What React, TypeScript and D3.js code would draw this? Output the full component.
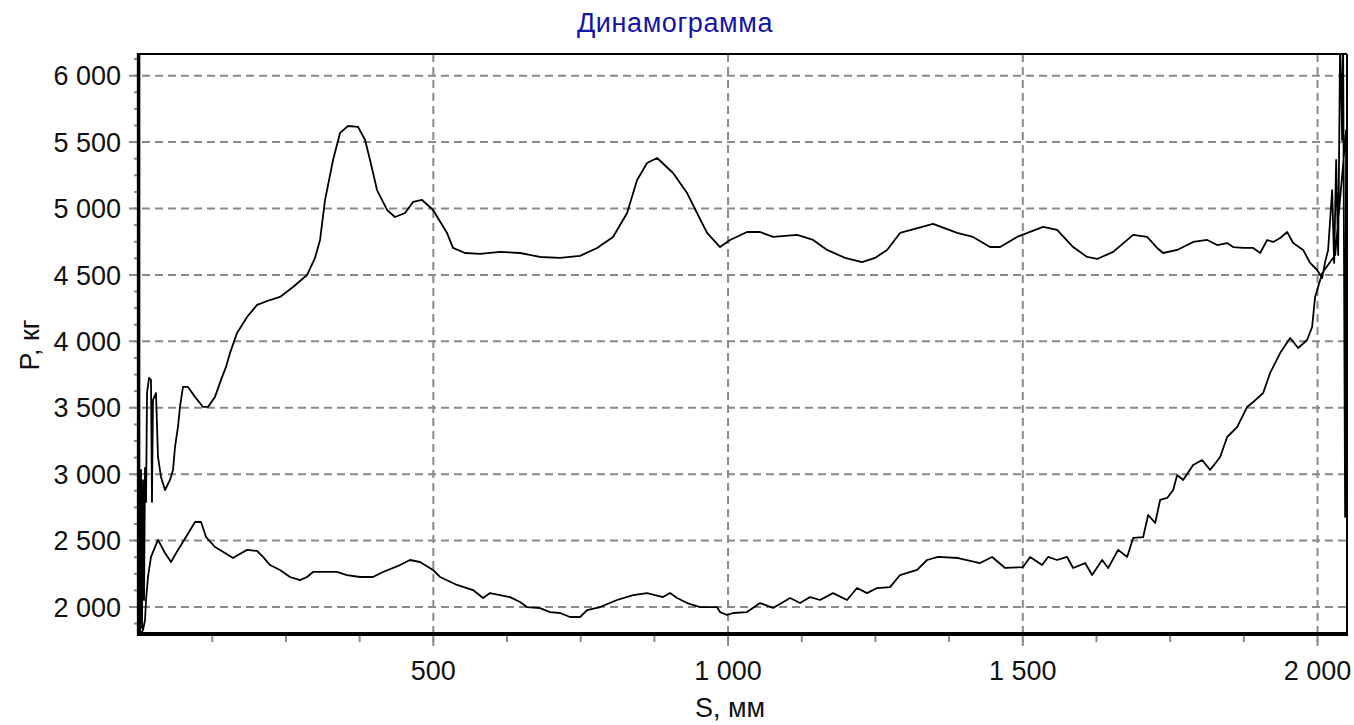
import React from 'react'
import * as d3 from 'd3'

// Ход вверх: левый край с колебаниями, верхняя ветвь и выброс у правого края
const upS = [
  2.4, 4.1, 5.8, 7.5, 9.2, 10.9, 12.6, 14.3, 17.6, 21.0, 22.7, 24.4, 29.5, 32.9, 38.0, 44.8,
  53.3, 58.4, 61.8, 66.8, 70.2, 75.3, 83.8, 95.7, 109.3, 117.7, 129.6, 139.8, 148.3, 155.1,
  167.0, 184.0, 201.0, 222.9, 239.9, 262.0, 285.7, 299.3, 307.8, 316.3, 329.9, 341.7, 355.3,
  372.3, 384.2, 392.6, 404.5, 421.5, 435.0, 452.0, 465.6, 480.9, 499.5, 523.3, 533.4, 553.8,
  579.3, 613.2, 647.1, 681.0, 715.0, 748.9, 777.8, 804.9, 828.7, 845.7, 862.6, 879.6, 906.7,
  930.5, 947.4, 964.4, 986.4, 1003.4, 1032.2, 1054.3, 1076.4, 1117.1, 1144.3, 1168.0, 1198.5,
  1227.3, 1249.4, 1269.7, 1291.8, 1347.8, 1388.5, 1415.6, 1444.5, 1461.5, 1490.3, 1534.4,
  1558.2, 1585.4, 1609.1, 1626.1, 1653.3, 1687.2, 1711.0, 1727.9, 1738.1, 1761.9, 1789.0,
  1812.8, 1829.7, 1846.7, 1856.9, 1873.8, 1890.8, 1902.7, 1914.5, 1924.7, 1936.6, 1948.5,
  1958.7, 1975.6, 1987.5, 1999.3, 2007.8, 2012.9, 2018.0, 2024.8, 2028.2, 2031.6, 2035.0,
  2038.3, 2040.0, 2041.7, 2043.4, 2046.8, 2048.5, 2030.0, 2008.0,
]
const upP = [
  1803, 3032, 1842, 2956, 2053, 3047, 2791, 3611, 3724, 3709, 2791, 3559, 3611, 3130, 2979, 2881,
  2957, 3032, 3205, 3356, 3506, 3657, 3657, 3582, 3506, 3506, 3582, 3710, 3808, 3913,
  4063, 4183, 4274, 4311, 4334, 4409, 4499, 4628, 4763, 5064, 5365, 5569, 5621,
  5614, 5516, 5365, 5139, 4989, 4936, 4966, 5049, 5064, 4989, 4815, 4703, 4665,
  4658, 4673, 4665, 4635, 4628, 4643, 4703, 4786, 4966, 5214, 5342, 5380, 5267,
  5116, 4966, 4816, 4710, 4763, 4823, 4823, 4786, 4801, 4763, 4688, 4628,
  4597, 4628, 4688, 4816, 4884, 4816, 4786, 4710, 4710, 4786, 4861,
  4839, 4710, 4635, 4620, 4673, 4801, 4786, 4703, 4665, 4688, 4748,
  4763, 4725, 4740, 4710, 4703, 4703, 4665, 4763, 4748, 4778, 4823,
  4740, 4688, 4590, 4537, 4477, 4598, 4688, 5139, 4590, 5365, 4650,
  6231, 5967, 5516, 6268, 2678, 5590, 4650, 4515,
]

// Ход вниз: нижняя ветвь справа налево
const downS = [
  1995.9, 1990.8, 1982.3, 1967.1, 1953.5, 1936.6, 1919.6, 1907.7, 1890.8, 1880.6, 1863.6,
  1846.7, 1834.8, 1817.8, 1804.2, 1789.0, 1772.0, 1761.9, 1755.1, 1744.9, 1733.0, 1724.6,
  1712.7, 1704.2, 1687.2, 1677.0, 1661.8, 1644.8, 1634.6, 1617.6, 1605.7, 1585.4, 1575.2,
  1558.2, 1542.9, 1532.8, 1512.4, 1500.5, 1470.0, 1447.9, 1427.5, 1390.2, 1356.3, 1337.6,
  1320.7, 1291.8, 1274.8, 1252.8, 1235.8, 1218.8, 1201.9, 1178.1, 1156.1, 1139.1, 1122.2,
  1105.2, 1076.4, 1054.3, 1032.2, 1008.5, 998.3, 986.4, 981.3, 952.5, 930.5, 913.5, 901.6,
  889.7, 862.6, 838.9, 811.7, 782.9, 760.8, 748.9, 731.9, 715.0, 698.0, 681.0, 658.9, 647.1,
  630.1, 596.2, 584.3, 567.3, 540.2, 511.4, 499.5, 477.4, 460.4, 443.4, 414.6, 397.6, 375.6,
  353.5, 336.6, 295.9, 285.7, 273.8, 256.8, 239.9, 222.9, 211.1, 200.9, 184.0, 168.7, 160.2,
  146.6, 129.6, 114.4, 105.9, 95.7, 80.4, 66.8, 55.0, 44.8, 32.9, 21.0, 15.9, 12.6, 10.9, 7.5,
  4.1,
]
const downP = [
  4334, 4108, 4010, 3950, 4025, 3912, 3762, 3611, 3543, 3506, 3355,
  3280, 3129, 3032, 3107, 3069, 2956, 2994, 2881, 2821, 2806, 2633,
  2693, 2527, 2520, 2377, 2430, 2294, 2354, 2241, 2331, 2294, 2377,
  2354, 2377, 2316, 2377, 2301, 2294, 2377, 2331, 2369, 2377, 2354,
  2279, 2241, 2150, 2143, 2105, 2143, 2053, 2105, 2053, 2075, 2030,
  2068, 1993, 2030, 1962, 1955, 1940, 1962, 2000, 2000, 2030, 2068, 2105,
  2075, 2105, 2090, 2053, 2000, 1977, 1925, 1925, 1955, 1962, 1992, 2000, 2038,
  2075, 2105, 2068, 2128, 2166, 2226, 2279, 2339, 2354, 2316, 2264, 2226, 2226,
  2241, 2264, 2264, 2226, 2203, 2226, 2279, 2316, 2377, 2422, 2430, 2392, 2369,
  2407, 2452, 2527, 2640, 2640, 2527, 2430, 2339, 2407, 2505, 2377, 2226, 2053, 1902, 1827,
  1805,
]

const xMajor = [500, 1000, 1500, 2000]
const yMajor = [2000, 2500, 3000, 3500, 4000, 4500, 5000, 5500, 6000]

const W = 1354
const H = 725
const left = 138.6
const right = 1347
const top = 54
const bottom = 634
const FONT = '"Liberation Sans", Arial, sans-serif'
const GRID = '#8a8a8a'

function fmt(n: number) {
  if (n < 1000) return String(n)
  return `${Math.floor(n / 1000)}\u00a0${String(n % 1000).padStart(3, '0')}`
}

export default function App() {
  const x = d3.scaleLinear().domain([0, 2050]).range([left, right])
  const y = d3.scaleLinear().domain([1797, 6163]).range([bottom, top])

  const pts: [number, number][] = [
    ...upS.map((s, i) => [s, upP[i]] as [number, number]),
    ...downS.map((s, i) => [s, downP[i]] as [number, number]),
  ]
  const line = d3.line<[number, number]>().x((d) => x(d[0])).y((d) => y(d[1]))

  const xMinor = d3.range(125, 2050, 125)
  const yMinor = d3.range(1875, 6163, 125)

  return (
    <svg width={W} height={H} style={{ position: 'absolute', left: 0, top: 0, background: '#fff' }}>
      <defs>
        <clipPath id="plot">
          <rect x={left} y={top} width={right - left} height={bottom - top} />
        </clipPath>
      </defs>

      <text x={675} y={32} textAnchor="middle" fontFamily={FONT} fontSize={27} letterSpacing={0.6} fill="#1414a8">
        Динамограмма
      </text>

      {/* сетка */}
      {yMajor.map((v) => (
        <line key={'gy' + v} x1={129} x2={right} y1={y(v)} y2={y(v)} stroke={GRID} strokeWidth={2} strokeDasharray="8,5" />
      ))}
      {xMajor.map((v) => (
        <line key={'gx' + v} x1={x(v)} x2={x(v)} y1={top} y2={bottom + 12} stroke={GRID} strokeWidth={2} strokeDasharray="8,5" />
      ))}

      {/* малые деления */}
      {yMinor.map((v) => (
        <line key={'my' + v} x1={134} x2={left} y1={y(v)} y2={y(v)} stroke={GRID} strokeWidth={2} />
      ))}
      {xMinor.map((v) => (
        <line key={'mx' + v} x1={x(v)} x2={x(v)} y1={bottom} y2={bottom + 8} stroke={GRID} strokeWidth={2} />
      ))}

      {/* рамка */}
      <line x1={left} x2={right} y1={top} y2={top} stroke="#000" strokeWidth={2} />
      <line x1={right} x2={right} y1={top} y2={bottom} stroke="#000" strokeWidth={2} />
      <line x1={left} x2={left} y1={top - 1} y2={bottom + 2} stroke="#000" strokeWidth={3.5} />
      <line x1={left - 1.5} x2={right + 1} y1={bottom} y2={bottom} stroke="#000" strokeWidth={4} />

      <path d={line(pts) || ''} fill="none" stroke="#000" strokeWidth={1.8} strokeLinejoin="round" clipPath="url(#plot)" />

      {yMajor.map((v) => (
        <text key={'ly' + v} x={121} y={y(v)} dy="0.36em" textAnchor="end" fontFamily={FONT} fontSize={27} fill="#111">
          {fmt(v)}
        </text>
      ))}
      {xMajor.map((v) => (
        <text key={'lx' + v} x={x(v)} y={680} textAnchor="middle" fontFamily={FONT} fontSize={27} fill="#111">
          {fmt(v)}
        </text>
      ))}

      <text x={730} y={717} textAnchor="middle" fontFamily={FONT} fontSize={27} fill="#111">
        S, мм
      </text>
      <text transform="translate(39,345) rotate(-90)" textAnchor="middle" fontFamily={FONT} fontSize={27} fill="#111">
        P, кг
      </text>
    </svg>
  )
}
